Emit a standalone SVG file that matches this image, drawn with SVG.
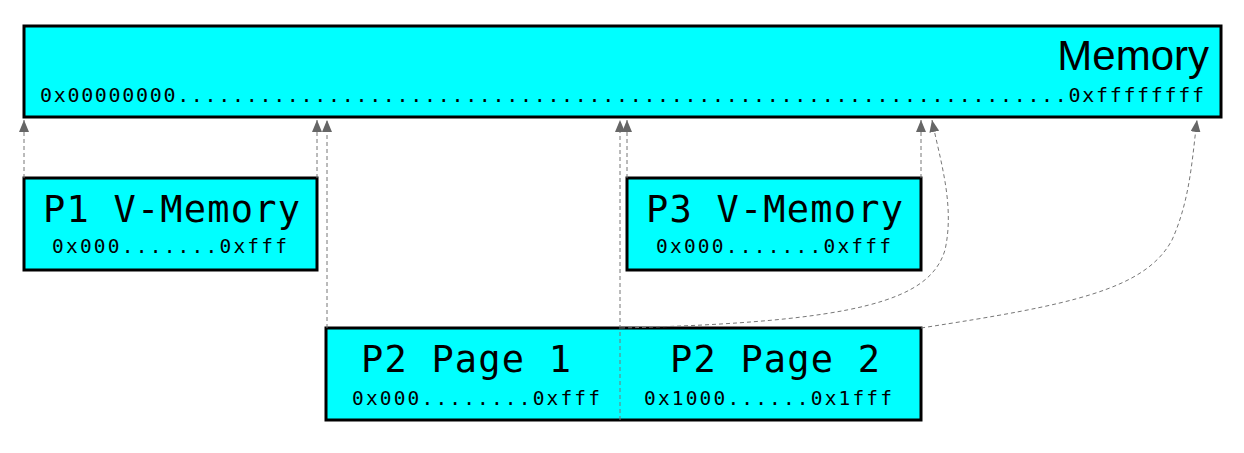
<svg xmlns="http://www.w3.org/2000/svg" width="1244" height="453" viewBox="0 0 1244 453">
  <style>
    .box { fill: #00ffff; stroke: #000; stroke-width: 3; }
    .mono { font-family: "DejaVu Sans Mono", "Liberation Mono", monospace; fill: #000; }
    .big { font-size: 37px; }
    .small { font-size: 19.5px; }
    .title { font-family: "Liberation Sans", Arial, sans-serif; font-size: 42px; fill: #000; }
    .conn { fill: none; stroke: #777; stroke-width: 1; stroke-dasharray: 4 3; }
  </style>
  <defs>
    <marker id="arrow" viewBox="0 0 12 10" markerWidth="12" markerHeight="10" refX="12" refY="5" orient="auto" markerUnits="userSpaceOnUse">
      <path d="M0,0 L12,5 L0,10 z" fill="#666" stroke="none"/>
    </marker>
  </defs>
  <rect width="1244" height="453" fill="#fff"/>

  <g id="memory">
    <rect class="box" x="24" y="26" width="1197" height="91"/>
    <text class="title" x="1209" y="70" text-anchor="end">Memory</text>
    <text class="mono" x="40" y="102" font-size="20" textLength="1164" lengthAdjust="spacing">0x00000000.................................................................0xffffffff</text>
  </g>

  <g id="p1">
    <rect class="box" x="24" y="178" width="293" height="92"/>
    <text class="mono big" x="43" y="222" textLength="257" lengthAdjust="spacing">P1 V-Memory</text>
    <text class="mono small" x="52" y="253" textLength="235" lengthAdjust="spacing">0x000.......0xfff</text>
  </g>

  <g id="p3">
    <rect class="box" x="627" y="178" width="294" height="92"/>
    <text class="mono big" x="646" y="222" textLength="257" lengthAdjust="spacing">P3 V-Memory</text>
    <text class="mono small" x="656" y="253" textLength="235" lengthAdjust="spacing">0x000.......0xfff</text>
  </g>

  <g id="p2">
    <rect class="box" x="326" y="328" width="595" height="92"/>
    <text class="mono big" x="361" y="372" textLength="210" lengthAdjust="spacing">P2 Page 1</text>
    <text class="mono small" x="352" y="405" textLength="248" lengthAdjust="spacing">0x000........0xfff</text>
    <text class="mono big" x="670" y="372" textLength="210" lengthAdjust="spacing">P2 Page 2</text>
    <text class="mono small" x="644" y="405" textLength="248" lengthAdjust="spacing">0x1000......0x1fff</text>
  </g>

  <g id="connectors">
    <path class="conn" d="M24,178 L24,120" marker-end="url(#arrow)"/>
    <path class="conn" d="M317,178 L317,120" marker-end="url(#arrow)"/>
    <path class="conn" d="M327,328 L327,120" marker-end="url(#arrow)"/>
    <path class="conn" d="M620,420 L620,120" marker-end="url(#arrow)"/>
    <path class="conn" d="M627,178 L627,120" marker-end="url(#arrow)"/>
    <path class="conn" d="M921,178 L921,120" marker-end="url(#arrow)"/>
    <path class="conn" d="M621,328 C860,322 930,300 945,250 C955,205 940,160 932,120" marker-end="url(#arrow)"/>
    <path class="conn" d="M921,328 C1070,305 1145,290 1172,240 C1190,200 1192,160 1197,120" marker-end="url(#arrow)"/>
  </g>
</svg>
